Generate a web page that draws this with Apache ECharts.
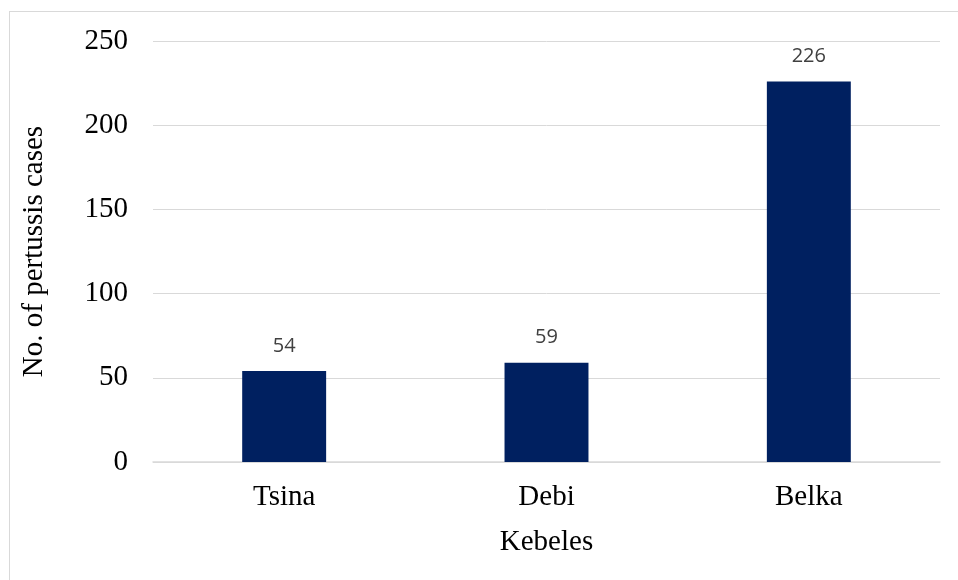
<!DOCTYPE html>
<html><head><meta charset="utf-8">
<script src="https://cdn.jsdelivr.net/npm/echarts@6/dist/echarts.min.js"></script>
<style>html,body{margin:0;padding:0;background:#fff}#c{width:958px;height:580px}
#frame{position:absolute;left:9px;top:11px;width:960px;height:600px;border-left:1px solid #d9d9d9;border-top:1px solid #d9d9d9;pointer-events:none}</style>
</head><body><div id="c"></div><div id="frame"></div>
<script>
const categories = ['Tsina', 'Debi', 'Belka'];
const cases = [54, 59, 226];
const yTicks = [0, 50, 100, 150, 200, 250];
const chart = echarts.init(document.getElementById('c'));
const serif = '"Liberation Serif","Times New Roman",serif';
chart.setOption({
  animation: false,
  grid: {left: 153, right: 18, top: 41, bottom: 118},
  xAxis: {
    type: 'category', data: categories,
    name: 'Kebeles', nameLocation: 'middle', nameGap: 66,
    nameTextStyle: {fontFamily: serif, fontSize: 29, color: '#000'},
    axisLine: {lineStyle: {color: '#d9d9d9', width: 1.5}},
    axisTick: {show: false},
    axisLabel: {fontFamily: serif, fontSize: 29, color: '#000', margin: 21}
  },
  yAxis: {
    type: 'value', min: yTicks[0], max: yTicks[yTicks.length - 1], interval: 50,
    name: 'No. of pertussis cases', nameLocation: 'middle', nameGap: 104,
    nameTextStyle: {fontFamily: serif, fontSize: 29, color: '#000'},
    axisLine: {show: false}, axisTick: {show: false},
    splitLine: {lineStyle: {color: '#d9d9d9', width: 1}},
    axisLabel: {fontFamily: serif, fontSize: 29, color: '#000', margin: 25}
  },
  series: [{
    type: 'bar', data: cases, barWidth: '32%',
    itemStyle: {color: '#002060'},
    label: {show: true, position: 'top', distance: 15, fontFamily: '"Open Sans",sans-serif', fontSize: 20, color: '#404040'}
  }]
});
</script></body></html>
